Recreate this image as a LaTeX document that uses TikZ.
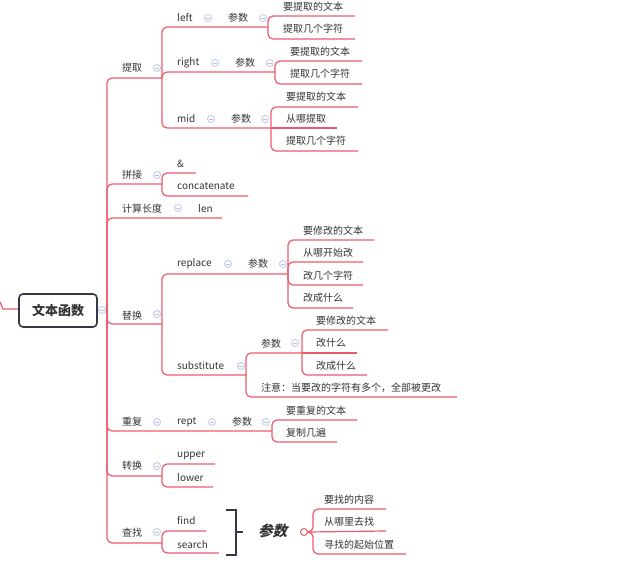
\documentclass[tikz,border=0pt]{standalone}
\usepackage{fontspec}
\setmainfont{Noto Sans CJK SC}
\newfontfamily\slantcjk[FakeSlant=0.25]{Noto Sans CJK SC}
\definecolor{linecol}{HTML}{EC5A6C}
\definecolor{iconcol}{HTML}{B4C0E4}
\definecolor{darkcol}{HTML}{353846}
\definecolor{txtcol}{HTML}{333333}
\tikzset{
  ln/.style={draw=linecol, line width=1.2pt, rounded corners=5pt},
  lbl/.style={anchor=west, inner sep=0pt, text=txtcol, font=\fontsize{10}{12}\selectfont},
  ico/.style={circle, draw=iconcol, line width=0.7pt, fill=white, minimum size=7pt, inner sep=0pt,
    path picture={\draw[iconcol, line width=0.7pt] ([xshift=-2pt]path picture bounding box.center) -- ([xshift=2pt]path picture bounding box.center);}},
}
\begin{document}
\begin{tikzpicture}[x=1pt,y=-1pt]
\useasboundingbox (0,0) rectangle (635,569);

% hub
\coordinate (hub) at (107,310);
\draw[ln] (0,302) .. controls (3,309) .. (8,309) -- (19,309);
\node[draw=darkcol, line width=1.6pt, rounded corners=4pt, fill=white, minimum width=78pt, minimum height=33pt, inner sep=0pt,
  font=\fontsize{13}{15}\selectfont\bfseries, text=txtcol] (root) at (58,310.5) {文本函数};
\draw[ln] (root.east) -- (hub);

% ---------- level 1 ----------
\coordinate (j1) at (162,78);
\coordinate (j2) at (162,184);
\coordinate (j4) at (162,324);
\coordinate (j5) at (272,431);
\coordinate (j6) at (162,476);
\coordinate (j7) at (162,543);
\draw[ln] (hub) |- (j1);
\draw[ln] (hub) |- (j2);
\draw[ln] (hub) |- (222,218);
\draw[ln] (hub) |- (j4);
\draw[ln] (hub) |- (j5);
\draw[ln] (hub) |- (j6);
\draw[ln] (hub) |- (j7);

\node[lbl] (tiqu) at (122,68) {提取};
\node[lbl] (pinjie) at (122,175) {拼接};
\node[lbl] (jisuan) at (122,209) {计算长度};
\node[lbl] (tihuan) at (122,316) {替换};
\node[lbl] (chongfu) at (122,422) {重复};
\node[lbl] (zhuanhuan) at (122,466) {转换};
\node[lbl] (chazhao) at (122,533) {查找};

% ---------- 提取 ----------
\coordinate (jl) at (268,27);
\coordinate (jr) at (275,72);
\coordinate (jm) at (271,128);
\draw[ln] (j1) |- (jl);
\draw[ln] (j1) |- (jr);
\draw[ln] (j1) |- (jm);
\node[lbl] (left) at (177,18) {left};
\node[lbl] (lp) at (228,18) {参数};
\draw[ln] (jl) |- (355,16);
\draw[ln] (jl) |- (355,39);
\node[lbl] (l1) at (283,7) {要提取的文本};
\node[lbl] (l2) at (283,29) {提取几个字符};

\node[lbl] (right) at (177,63) {right};
\node[lbl] (rp) at (235,63) {参数};
\draw[ln] (jr) |- (362,61);
\draw[ln] (jr) |- (362,84);
\node[lbl] (r1) at (290,52) {要提取的文本};
\node[lbl] (r2) at (290,74) {提取几个字符};

\node[lbl] (mid) at (177,119) {mid};
\node[lbl] (mp) at (231,119) {参数};
\draw[ln] (jm) |- (358,107);
\draw[ln] (jm) -- (337,128);
\draw[ln] (jm) |- (358,151);
\node[lbl] (m1) at (286,97) {要提取的文本};
\node[lbl] (m2) at (286,119) {从哪提取};
\node[lbl] (m3) at (286,141) {提取几个字符};

% ---------- 拼接 ----------
\draw[ln] (j2) |- (196,173);
\draw[ln] (j2) |- (248,196);
\node[lbl] (amp) at (177,164) {\&};
\node[lbl] (concat) at (177,186) {concatenate};

% ---------- 计算长度 ----------
\node[lbl] (len) at (198,209) {len};

% ---------- 替换 ----------
\coordinate (jrep) at (288,274);
\coordinate (jsub) at (246,375);
\coordinate (jsp) at (302,353);
\draw[ln] (j4) |- (jrep);
\draw[ln] (j4) |- (jsub);
\node[lbl] (replace) at (177,264) {replace};
\node[lbl] (repp) at (248,264) {参数};
\draw[ln] (jrep) |- (374,240);
\draw[ln] (jrep) |- (363,262);
\draw[ln] (jrep) |- (363,285);
\draw[ln] (jrep) |- (353,308);
\node[lbl] (rp1) at (303,231) {要修改的文本};
\node[lbl] (rp2) at (303,253) {从哪开始改};
\node[lbl] (rp3) at (303,276) {改几个字符};
\node[lbl] (rp4) at (303,298) {改成什么};

\node[lbl] (subst) at (177,366) {substitute};
\draw[ln] (jsub) |- (jsp);
\draw[ln] (jsub) |- (457,397);
\node[lbl] (subp) at (261,344) {参数};
\node[lbl] (note) at (261,388) {注意：当要改的字符有多个，全部被更改};
\draw[ln] (jsp) |- (388,330);
\draw[ln] (jsp) -- (357,353);
\draw[ln] (jsp) |- (367,375);
\node[lbl] (sp1) at (316,321) {要修改的文本};
\node[lbl] (sp2) at (316,343) {改什么};
\node[lbl] (sp3) at (316,366) {改成什么};

% ---------- 重复 ----------
\node[lbl] (rept) at (177,422) {rept};
\node[lbl] (reptp) at (232,422) {参数};
\draw[ln] (j5) |- (357,420);
\draw[ln] (j5) |- (337,442);
\node[lbl] (rt1) at (286,411) {要重复的文本};
\node[lbl] (rt2) at (286,433) {复制几遍};

% ---------- 转换 ----------
\draw[ln] (j6) |- (215,464);
\draw[ln] (j6) |- (213,487);
\node[lbl] (upper) at (177,456) {upper};
\node[lbl] (lower) at (177,478) {lower};

% ---------- 查找 ----------
\draw[ln] (j7) |- (206,531);
\draw[ln] (j7) |- (219,553);
\node[lbl] (find) at (177,521) {find};
\node[lbl] (search) at (177,545) {search};

\draw[darkcol, line width=2.6pt] (226,510) -- (236,510) -- (236,555) -- (226,555);
\draw[darkcol, line width=2.6pt] (236,532) -- (243,532);
\node[anchor=west, inner sep=0pt, text=txtcol, font=\fontsize{14.5}{16}\selectfont\slantcjk\bfseries] (fp) at (258,531) {参数};

\coordinate (jf) at (308,532);
\draw[ln] (jf) -- (313,532) -- (313,509) -- (386,509);
\draw[ln] (jf) -- (386,531);
\draw[ln] (jf) -- (313,532) -- (313,554) -- (406,554);
\node[circle, draw=linecol, line width=1pt, fill=white, minimum size=7pt, inner sep=0pt] (fc) at (304,532) {};
\node[lbl] (f1) at (324,500) {要找的内容};
\node[lbl] (f2) at (324,522) {从哪里去找};
\node[lbl] (f3) at (324,545) {寻找的起始位置};

% ---------- collapse icons ----------
\foreach \p in {(102,310),(157,68),(157,175),(178,208),(157,314),(157,422),(157,466),(157,532),
  (208,18),(263,18),(215,63),(270,63),(211,119),(265,119),
  (228,264),(283,264),(241,366),(295,343),(212,422),(266,422)}
  \node[ico] at \p {};
\end{tikzpicture}
\end{document}
